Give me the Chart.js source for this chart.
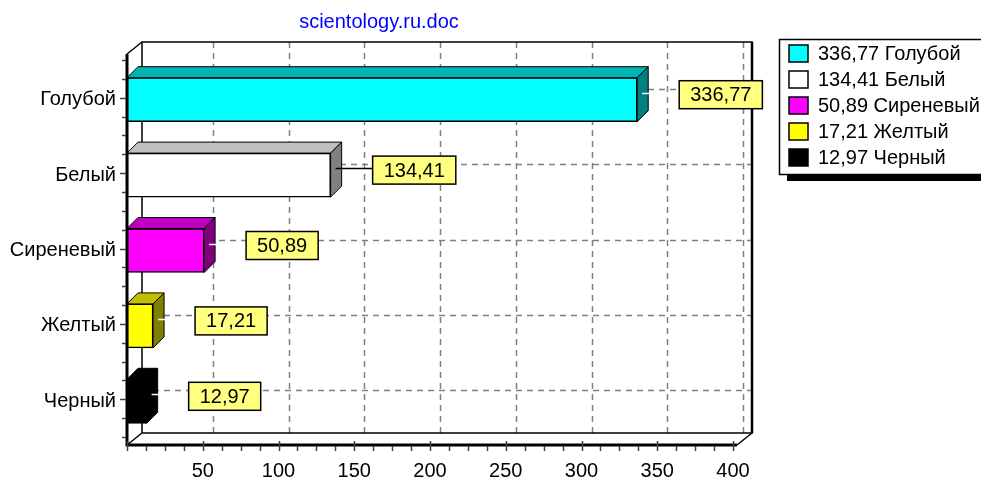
<!DOCTYPE html>
<html>
<head>
<meta charset="utf-8">
<script src="https://cdn.jsdelivr.net/npm/chart.js@4.4.1/dist/chart.umd.min.js"></script>
<style>
  html, body { margin: 0; padding: 0; background: #fff; }
  #wrap { width: 981px; height: 478px; }
</style>
</head>
<body>
<div id="wrap"><canvas id="coloresChart" width="981" height="478"></canvas></div>
<script>
// datos
const categorias = ["Голубой", "Белый", "Сиреневый", "Желтый", "Черный"];
const valores = [336.77, 134.41, 50.89, 17.21, 12.97];
const titulo = "scientology.ru.doc";
const xMin = 0;
const xMax = 400;
const xPaso = 50;

// colores de las caras
const frente = ["#00ffff", "#ffffff", "#ff00ff", "#ffff00", "#000000"];
const arriba = ["#00b4b4", "#c0c0c0", "#c000c0", "#c0c000", "#000000"];
const lado = ["#008080", "#808080", "#800080", "#808000", "#000000"];
const conector = ["#ffffff", "#000000", "#ffffff", "#ffffff", "#ffffff"];

const FUENTE = '20px "Liberation Sans", Arial, sans-serif';

function fmt(v) {
  return v.toFixed(2).replace(".", ",");
}

const dibujo3d = {
  id: "dibujo3d",
  beforeDatasetsDraw(chart) {
    const ctx = chart.ctx;
    const xs = chart.scales.x;
    const ys = chart.scales.y;
    const a = chart.chartArea;
    const L = a.left, R = xs.getPixelForValue(xMax) + 4;
    const T = a.top - 8, B = a.bottom + 6;
    ctx.save();
    // rejilla de fondo
    ctx.strokeStyle = "#808080";
    ctx.lineWidth = 1.5;
    ctx.setLineDash([6, 5]);
    for (let v = xMin + xPaso; v <= xMax; v += xPaso) {
      const x = Math.round(xs.getPixelForValue(v) + 10) + 0.5;
      ctx.beginPath();
      ctx.moveTo(x, T - 12);
      ctx.lineTo(x, B - 12);
      ctx.stroke();
    }
    categorias.forEach((c, i) => {
      const y = Math.round(ys.getPixelForValue(i) - 11) + 0.5;
      ctx.beginPath();
      ctx.moveTo(L + 15, y);
      ctx.lineTo(R + 15, y);
      ctx.stroke();
    });
    ctx.setLineDash([]);
    // marco de fondo
    ctx.strokeStyle = "#000";
    ctx.lineWidth = 1.5;
    ctx.strokeRect(L + 15, T - 12, R - L, B - T);
    ctx.lineWidth = 2.5;
    ctx.beginPath();
    ctx.moveTo(R + 15, T - 12);
    ctx.lineTo(R + 15, B - 12);
    ctx.stroke();
    ctx.lineWidth = 1.5;
    ctx.beginPath();
    ctx.moveTo(L, T); ctx.lineTo(L + 15, T - 12);
    ctx.moveTo(L, B); ctx.lineTo(L + 15, B - 12);
    ctx.moveTo(R, B); ctx.lineTo(R + 15, B - 12);
    ctx.stroke();
    ctx.restore();
  },
  afterDatasetsDraw(chart) {
    const ctx = chart.ctx;
    const xs = chart.scales.x;
    const a = chart.chartArea;
    const meta = chart.getDatasetMeta(0);
    const dx = 11, dy = -11;
    ctx.save();
    ctx.lineWidth = 1;
    ctx.strokeStyle = "#000";
    meta.data.forEach((el, i) => {
      const top = el.y - el.height / 2, bot = el.y + el.height / 2;
      const x0 = el.base, x1 = el.x;
      // cara superior
      ctx.fillStyle = arriba[i];
      ctx.beginPath();
      ctx.moveTo(x0, top);
      ctx.lineTo(x1, top);
      ctx.lineTo(x1 + dx, top + dy);
      ctx.lineTo(x0 + dx, top + dy);
      ctx.closePath();
      ctx.fill();
      ctx.stroke();
      // cara lateral
      ctx.fillStyle = lado[i];
      ctx.beginPath();
      ctx.moveTo(x1, top);
      ctx.lineTo(x1 + dx, top + dy);
      ctx.lineTo(x1 + dx, bot + dy);
      ctx.lineTo(x1, bot);
      ctx.closePath();
      ctx.fill();
      ctx.stroke();
    });
    // etiquetas de valor
    ctx.font = FUENTE;
    meta.data.forEach((el, i) => {
      const txt = fmt(valores[i]);
      const w = ctx.measureText(txt).width + 22;
      const bx = el.x + 42;
      const cy = el.y - 5;
      ctx.strokeStyle = conector[i];
      ctx.lineWidth = 1.5;
      ctx.beginPath();
      ctx.moveTo(el.x + 5, Math.round(el.y - 7) + 0.5);
      ctx.lineTo(bx, Math.round(el.y - 7) + 0.5);
      ctx.stroke();
      ctx.fillStyle = "#ffff80";
      ctx.fillRect(bx, cy - 14, w, 28);
      ctx.strokeStyle = "#000";
      ctx.strokeRect(bx, cy - 14, w, 28);
      ctx.fillStyle = "#000";
      ctx.textAlign = "center";
      ctx.textBaseline = "middle";
      ctx.fillText(txt, bx + w / 2, cy + 1);
    });
    // ejes frontales
    const L = a.left, R = xs.getPixelForValue(xMax) + 4;
    const T = a.top - 8, B = a.bottom + 6;
    ctx.strokeStyle = "#000";
    ctx.lineWidth = 3;
    ctx.beginPath();
    ctx.moveTo(L, T);
    ctx.lineTo(L, B);
    ctx.lineTo(R, B);
    ctx.stroke();
    ctx.strokeStyle = "#404040";
    ctx.lineWidth = 1.5;
    const banda = (a.bottom - a.top) / categorias.length;
    for (let k = 0; k <= categorias.length * 4; k++) {
      const y = Math.round(a.top - 2 + k * banda / 4) + 0.5;
      const largo = k % 4 === 2 ? 7 : 5;
      ctx.beginPath();
      ctx.moveTo(L - largo, y);
      ctx.lineTo(L - 1, y);
      ctx.stroke();
    }
    for (let v = xMin; v <= xMax; v += xPaso / 4) {
      const x = Math.round(xs.getPixelForValue(v)) + 0.5;
      const mayor = v % xPaso === 0;
      ctx.beginPath();
      ctx.moveTo(x, mayor ? B - 4 : B + 1);
      ctx.lineTo(x, B + 6);
      ctx.stroke();
    }
    ctx.restore();
  },
  afterDraw(chart) {
    const ctx = chart.ctx;
    ctx.save();
    // titulo
    ctx.font = FUENTE;
    ctx.fillStyle = "#0000ff";
    ctx.textAlign = "center";
    ctx.textBaseline = "alphabetic";
    ctx.fillText(titulo, 379, 28);
    // leyenda con sombra
    const lx = 779, ly = 39, lw = 215, lh = 135;
    ctx.fillStyle = "#000";
    ctx.fillRect(lx + 8, ly + 7, lw, lh);
    ctx.fillStyle = "#fff";
    ctx.fillRect(lx, ly, lw, lh);
    ctx.strokeStyle = "#000";
    ctx.lineWidth = 1.5;
    ctx.strokeRect(lx + 0.5, ly + 0.5, lw, lh);
    ctx.textAlign = "left";
    ctx.textBaseline = "middle";
    categorias.forEach((c, i) => {
      const cy = 53 + i * 26;
      ctx.fillStyle = frente[i];
      ctx.fillRect(789, cy - 8, 19, 17);
      ctx.strokeRect(789, cy - 8, 19, 17);
      ctx.fillStyle = "#000";
      ctx.fillText(fmt(valores[i]) + " " + c, 818, cy + 1);
    });
    ctx.restore();
  },
};

document.addEventListener("DOMContentLoaded", function () {
  const ctx = document.getElementById("coloresChart").getContext("2d");

  new Chart(ctx, {
    type: "bar",
    data: {
      labels: categorias,
      datasets: [
        {
          data: valores,
          backgroundColor: frente,
          borderColor: "#000000",
          borderWidth: 1.5,
          borderSkipped: false,
          barThickness: 44,
        },
      ],
    },
    options: {
      indexAxis: "y",
      responsive: false,
      animation: false,
      devicePixelRatio: 1,
      layout: {
        padding: { left: 0, top: 62, right: 248, bottom: 0 },
      },
      plugins: {
        legend: { display: false },
        tooltip: { enabled: false },
      },
      scales: {
        x: {
          min: xMin,
          max: xMax,
          grid: { display: false, drawTicks: false },
          border: { display: false },
          ticks: {
            stepSize: xPaso,
            padding: 20,
            color: "#000",
            font: { family: '"Liberation Sans", Arial, sans-serif', size: 20 },
            callback: (v) => (v === 0 ? "" : v),
          },
          afterFit: (s) => { s.height = 39; },
        },
        y: {
          grid: { display: false, drawTicks: false },
          border: { display: false },
          ticks: {
            padding: 11,
            color: "#000",
            font: { family: '"Liberation Sans", Arial, sans-serif', size: 20 },
          },
          afterFit: (s) => { s.width = 127; },
        },
      },
    },
    plugins: [dibujo3d],
  });
});
</script>
</body>
</html>
